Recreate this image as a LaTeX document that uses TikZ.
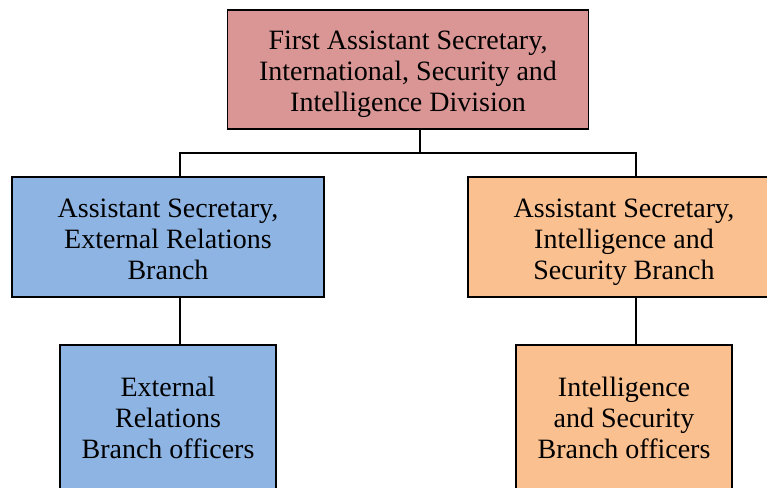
\documentclass[tikz,border=0pt]{standalone}
\usepackage{fontspec}
\setmainfont{Liberation Serif}
\begin{document}
\begin{tikzpicture}[x=1pt,y=-1pt,
  box/.style={draw=black,line width=1.6pt,inner sep=0pt},
  lbl/.style={align=center,inner sep=0pt,font=\fontsize{28}{31}\selectfont,
    execute at begin node=\strut, execute at end node=\strut},
  link/.style={draw=black,line width=2pt}]
\definecolor{pinkfill}{HTML}{D99694}
\definecolor{bluefill}{HTML}{8EB4E3}
\definecolor{orangefill}{HTML}{FAC090}
\useasboundingbox (0,0) rectangle (767,487);
\clip (0,0) rectangle (767,487);
\node[box,fill=pinkfill,minimum width=361pt,minimum height=119pt] (top) at (408,69.5) {};
\node[box,fill=bluefill,minimum width=312pt,minimum height=120pt] (left) at (168,237) {};
\node[box,fill=orangefill,minimum width=312pt,minimum height=120pt] (right) at (624,237) {};
\node[box,fill=bluefill,minimum width=215.5pt,minimum height=170pt] (bl) at (168,430) {};
\node[box,fill=orangefill,minimum width=216.5pt,minimum height=170pt] (br) at (624,430) {};
\node[lbl] (toptext) at (408,76) {First Assistant Secretary,\\International, Security and\\Intelligence Division};
\node[lbl] (lefttext) at (168,244) {Assistant Secretary,\\External Relations\\Branch};
\node[lbl] (righttext) at (624,244) {Assistant Secretary,\\Intelligence and\\Security Branch};
\node[lbl] (bltext) at (168,422) {External\\Relations\\Branch officers};
\node[lbl] (brtext) at (624,422) {Intelligence\\and Security\\Branch officers};
\coordinate (bus) at (420,153);
\draw[link] ([xshift=12pt]top.south) -- (bus);
\draw[link] ([xshift=12pt]left.north) |- (bus) -| ([xshift=12pt]right.north);
\draw[link] ([xshift=12pt]left.south) -- ([xshift=12pt]bl.north);
\draw[link] ([xshift=12pt]right.south) -- ([xshift=12pt]br.north);
\end{tikzpicture}
\end{document}
